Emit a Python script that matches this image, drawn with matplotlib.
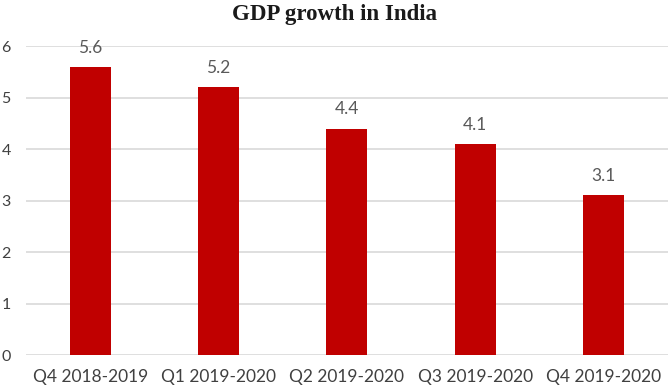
import matplotlib
matplotlib.use("Agg")
import matplotlib.pyplot as plt

categories = ["Q4 2018-2019", "Q1 2019-2020", "Q2 2019-2020", "Q3 2019-2020", "Q4 2019-2020"]
values = [5.6, 5.2, 4.4, 4.1, 3.1]
yticks = [0, 1, 2, 3, 4, 5, 6]

lab_font = ["Lato", "DejaVu Sans"]

fig = plt.figure(figsize=(6.69, 3.88), dpi=100)
ax = fig.add_axes([0.039, 0.085, 0.959, 0.796])
x = list(range(len(categories)))
ax.bar(x, values, width=0.32, color="#C00000", zorder=3)
ax.set_xlim(-0.5, len(categories) - 0.5)
ax.set_ylim(0, 6)
ax.set_yticks(yticks)
ax.set_yticklabels([str(t) for t in yticks], fontsize=11.5, color="#404040", family=lab_font)
ax.set_xticks(x)
ax.set_xticklabels(categories, fontsize=12.5, color="#404040", family=lab_font)
ax.tick_params(length=0, pad=10)
ax.tick_params(axis="y", pad=11)
for s in ax.spines.values():
    s.set_visible(False)
ax.grid(axis="y", color="#D9D9D9", linewidth=1.2, zorder=0)
for xi, v in zip(x, values):
    ax.annotate(f"{v}", (xi, v), xytext=(0, 8), textcoords="offset points",
                ha="center", va="bottom", fontsize=12.5, color="#595959", family=lab_font)
fig.text(0.5, 0.962, "GDP growth in India", ha="center", va="center",
         fontsize=16.5, fontweight="bold", family="Liberation Serif", color="#1a1a1a")
fig.savefig("out.png", dpi=100)
